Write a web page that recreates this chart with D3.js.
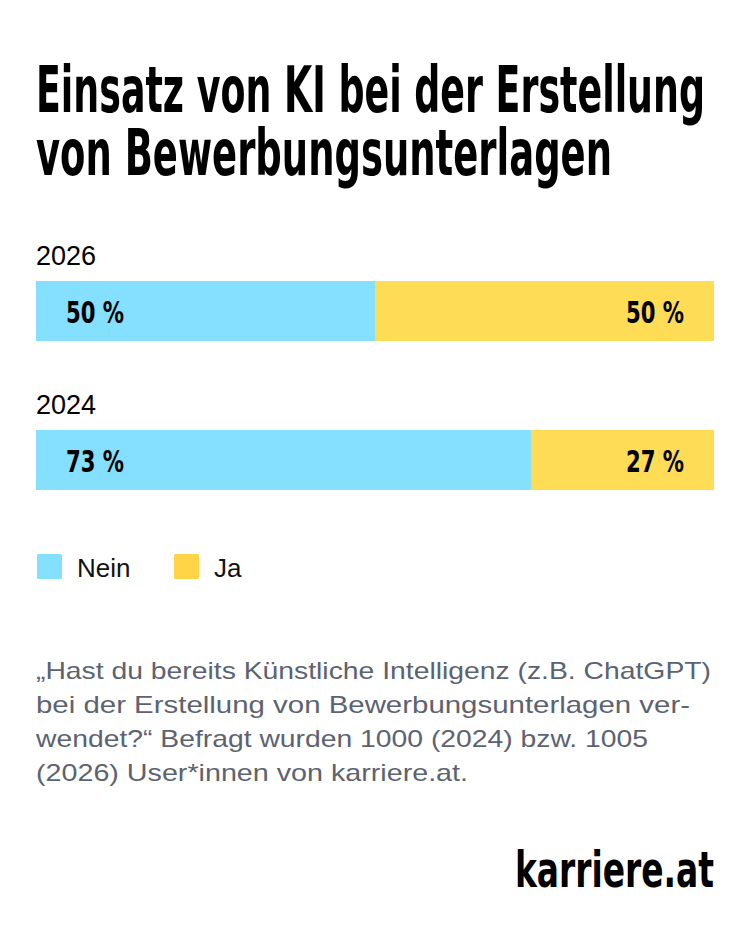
<!DOCTYPE html>
<html>
<head>
<meta charset="utf-8">
<script src="https://cdn.jsdelivr.net/npm/d3@7"></script>
<style>
  body { margin: 0; background: #fff; }
  svg { display: block; }
</style>
</head>
<body>
<svg id="chart"></svg>
<script>
// data
var years = ["2026", "2024"];
var nein = [50, 73];
var ja = [50, 27];
var seriesNames = ["Nein", "Ja"];
var titleLines = ["Einsatz von KI bei der Erstellung", "von Bewerbungsunterlagen"];
var noteLines = [
  "\u201EHast du bereits K\u00FCnstliche Intelligenz (z.B. ChatGPT)",
  "bei der Erstellung von Bewerbungsunterlagen ver-",
  "wendet?\u201C Befragt wurden 1000 (2024) bzw. 1005",
  "(2026) User*innen von karriere.at."
];

var blue = "#85e0ff", yellow = "#ffdc55";
var condensed = "'Liberation Sans Narrow', 'DejaVu Sans Condensed', sans-serif";
var regular = "'Liberation Sans', Arial, sans-serif";

var svg = d3.select("#chart")
    .attr("width", 750)
    .attr("height", 940);

svg.append("rect").attr("width", 750).attr("height", 940).attr("fill", "#fff");

// squeeze a text to a share of its natural width
function squeeze(sel, k) {
  sel.each(function() {
    var w = this.getComputedTextLength();
    d3.select(this).attr("textLength", w * k).attr("lengthAdjust", "spacingAndGlyphs");
  });
}

// title
var titleWidths = [669, 576];
svg.selectAll(".title")
  .data(titleLines)
  .enter().append("text")
    .attr("class", "title")
    .attr("x", 36)
    .attr("y", function(d, i) { return 112 + i * 63; })
    .attr("textLength", function(d, i) { return titleWidths[i]; })
    .attr("lengthAdjust", "spacingAndGlyphs")
    .style("font-family", condensed)
    .style("font-weight", 700)
    .style("font-size", "64px")
    .attr("fill", "#000")
    .text(function(d) { return d; });

var data = years.map(function(y, i) { return {year: y, nein: nein[i], ja: ja[i]}; });

var x = d3.scaleLinear().domain([0, 100]).range([36, 714]);
var y = d3.scalePoint().domain(years).range([281, 430]);
var barH = 60;

var rows = svg.selectAll(".row")
  .data(data)
  .enter().append("g")
    .attr("class", "row")
    .attr("transform", function(d) { return "translate(0," + y(d.year) + ")"; });

rows.append("text")
    .attr("x", 36)
    .attr("y", -16)
    .style("font-family", regular)
    .style("font-size", "27px")
    .attr("fill", "#000")
    .text(function(d) { return d.year; });

rows.append("rect")
    .attr("x", x(0))
    .attr("y", 0)
    .attr("width", function(d) { return x(d.nein) - x(0); })
    .attr("height", barH)
    .attr("fill", blue);

rows.append("rect")
    .attr("x", function(d) { return x(d.nein); })
    .attr("y", 0)
    .attr("width", function(d) { return x(d.nein + d.ja) - x(d.nein); })
    .attr("height", barH)
    .attr("fill", yellow);

rows.append("text")
    .attr("x", x(0) + 30)
    .attr("y", 42)
    .style("font-family", condensed)
    .style("font-weight", 700)
    .style("font-size", "31px")
    .attr("fill", "#000")
    .text(function(d) { return d.nein + " %"; })
    .call(squeeze, 0.76);

rows.append("text")
    .attr("x", x(100) - 30)
    .attr("y", 42)
    .attr("text-anchor", "end")
    .style("font-family", condensed)
    .style("font-weight", 700)
    .style("font-size", "31px")
    .attr("fill", "#000")
    .text(function(d) { return d.ja + " %"; })
    .call(squeeze, 0.76);

// legend
var legendX = [37, 174];
var legendColors = [blue, "#ffd447"];
var legend = svg.selectAll(".legend")
  .data(seriesNames)
  .enter().append("g")
    .attr("class", "legend")
    .attr("transform", function(d, i) { return "translate(" + legendX[i] + ",554)"; });

legend.append("rect")
    .attr("width", 25)
    .attr("height", 25)
    .attr("rx", 1.5)
    .attr("fill", function(d, i) { return legendColors[i]; });

legend.append("text")
    .attr("x", 40)
    .attr("y", 23)
    .style("font-family", regular)
    .style("font-size", "26px")
    .attr("fill", "#111")
    .text(function(d) { return d; });

// note
var noteWidths = [675, 654, 612, 432];
svg.selectAll(".note")
  .data(noteLines)
  .enter().append("text")
    .attr("class", "note")
    .attr("x", 36)
    .attr("y", function(d, i) { return 679 + i * 34; })
    .attr("textLength", function(d, i) { return noteWidths[i]; })
    .attr("lengthAdjust", "spacingAndGlyphs")
    .style("font-family", regular)
    .style("font-size", "24px")
    .attr("fill", "#5c6370")
    .text(function(d) { return d; });

// logo
svg.append("text")
    .attr("x", 714)
    .attr("y", 887)
    .attr("text-anchor", "end")
    .attr("textLength", 199)
    .attr("lengthAdjust", "spacingAndGlyphs")
    .style("font-family", condensed)
    .style("font-weight", 700)
    .style("font-size", "50px")
    .attr("fill", "#000")
    .text("karriere.at");
</script>
</body>
</html>
